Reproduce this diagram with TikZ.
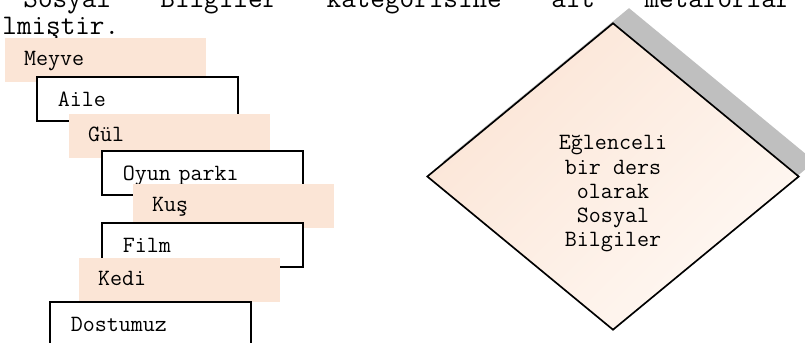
\documentclass[tikz,border=0pt]{standalone}
\usepackage{fontspec}
\usetikzlibrary{shapes.geometric}
\definecolor{peach}{HTML}{FBE5D6}
\definecolor{peachlight}{HTML}{FFF8F3}
\definecolor{shadowgray}{HTML}{BFBFBF}
\tikzset{
  peachbox/.style={fill=peach, draw=none, anchor=north west, inner xsep=9pt, inner ysep=0pt,
    text width=78.5pt, minimum height=21.1pt, align=left,
    font=\ttfamily\fontsize{11.2}{12}\selectfont, text height=7pt, text depth=2pt},
  linebox/.style={fill=white, draw=black, line width=0.9pt, anchor=north west, inner xsep=10pt, inner ysep=0pt,
    text width=76.5pt, minimum height=21.1pt, align=left,
    font=\ttfamily\fontsize{11.2}{12}\selectfont, text height=8.2pt, text depth=0.8pt},
  bodytext/.style={anchor=base west, inner sep=0pt, font=\ttfamily\fontsize{13.6}{15}\selectfont},
  diam/.style={diamond, inner sep=0pt, minimum width=178.6pt, minimum height=147.4pt},
}
\begin{document}
\begin{tikzpicture}[x=0.48pt,y=-0.48pt]
\useasboundingbox (0,0) rectangle (805,343);
\clip (0,0) rectangle (805,343);
% body text
\node[bodytext] (l1) at (23,8) {\hbox to 368.2pt{Sosyal\hfill Bilgiler\hfill kategorisine\hfill ait\hfill metaforlar}};
\node[bodytext] (l2) at (2,35) {lmiştir.};
% stacked boxes
\node[peachbox] (meyve) at (5,38) {Meyve};
\node[linebox] (aile) at (36,76) {Aile};
\node[peachbox] (gul) at (69,114) {Gül};
\node[linebox] (oyun) at (101,150) {Oyun parkı};
\node[peachbox] (kus) at (133,184) {Kuş};
\node[linebox] (film) at (101,222) {Film};
\node[peachbox] (kedi) at (79,258) {Kedi};
\node[linebox] (dost) at (49,301) {Dostumuz};
% diamond
\node[diam, fill=shadowgray] (shadow) at (629,161.5) {};
\node[diam, draw=black, line width=0.8pt, top color=peach, bottom color=peachlight, shading angle=45] (d) at (613,176.5) {};
\node[align=center, inner sep=0pt, font=\ttfamily\fontsize{11.2}{11.64}\selectfont] (dtext) at (613,194) {Eğlenceli\\bir ders\\olarak\\Sosyal\\Bilgiler};
\end{tikzpicture}
\end{document}
